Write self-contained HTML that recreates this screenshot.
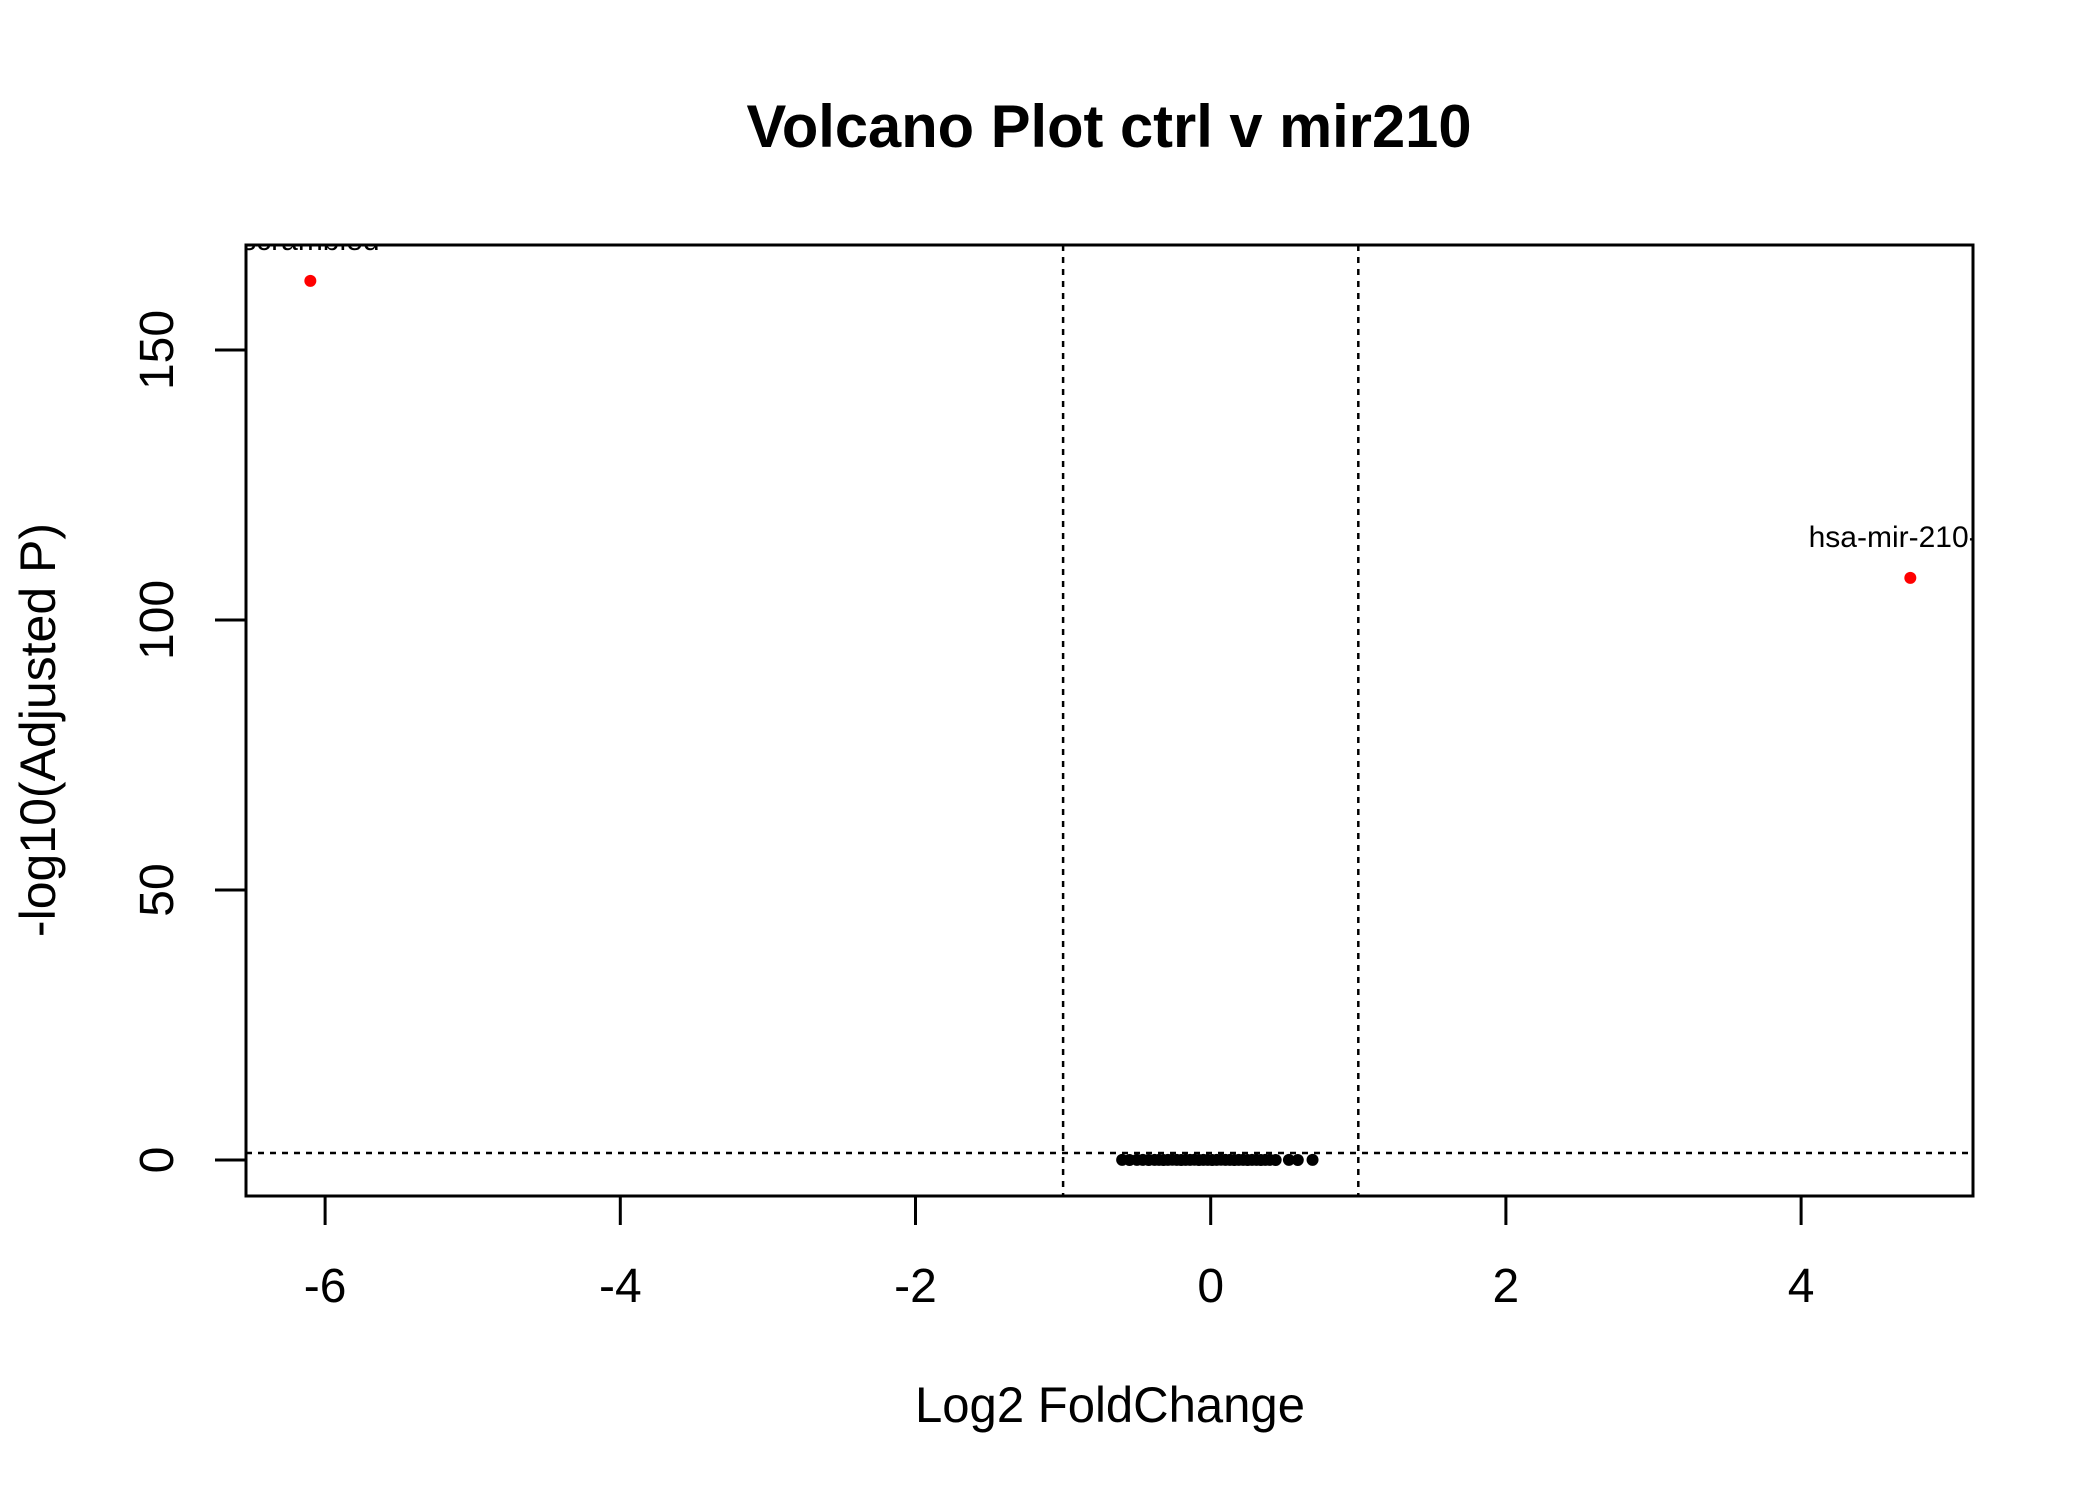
<!DOCTYPE html>
<html><head><meta charset="utf-8"><style>
html,body{margin:0;padding:0;background:#fff;}
svg{display:block;font-family:"Liberation Sans",sans-serif;}
</style></head><body>
<svg id="chart" width="2100" height="1500" xmlns="http://www.w3.org/2000/svg">
<rect width="2100" height="1500" fill="#fff"/>
<defs><clipPath id="plotclip"><rect x="246" y="245" width="1727" height="951"/></clipPath></defs>
<text x="1109" y="147" text-anchor="middle" font-weight="bold" font-size="60" textLength="725" lengthAdjust="spacingAndGlyphs">Volcano Plot ctrl v mir210</text>
<text x="1110" y="1422" text-anchor="middle" font-size="50" textLength="390" lengthAdjust="spacingAndGlyphs">Log2 FoldChange</text>
<text transform="translate(55,730) rotate(-90)" text-anchor="middle" font-size="50">-log10(Adjusted P)</text>
<g id="axes"></g>
<g id="guides" clip-path="url(#plotclip)"></g>
<g id="points" clip-path="url(#plotclip)"></g>
<rect x="246" y="245" width="1727" height="951" fill="none" stroke="#000" stroke-width="3"/>
</svg>
<script>
const xTicks = [-6, -4, -2, 0, 2, 4];
const yTicks = [0, 50, 100, 150];
const nsX = [-0.60,-0.55,-0.50,-0.46,-0.42,-0.38,-0.35,-0.32,-0.29,-0.26,-0.23,-0.20,-0.17,-0.14,-0.11,-0.08,-0.05,-0.02,0.01,0.04,0.07,0.10,0.13,0.16,0.19,0.22,0.25,0.28,0.31,0.34,0.37,0.40,0.44,0.53,0.59,0.69];
const nsY = [0.02,0.01,0.03,0.02,0.01,0.02,0.03,0.01,0.02,0.04,0.02,0.01,0.03,0.02,0.05,0.01,0.02,0.03,0.01,0.02,0.04,0.02,0.03,0.01,0.02,0.03,0.01,0.02,0.02,0.01,0.03,0.02,0.01,0.02,0.01,0.02];
const sigX = [-6.10, 4.74];
const sigY = [162.8, 107.8];
const sigLabels = ["scrambled", "hsa-mir-210-3p"];
const fcCut = [-1, 1];
const pCut = 1.3;

const NS = "http://www.w3.org/2000/svg";
function sx(v){ return 1210.7 + v * 147.6; }
function sy(v){ return 1160 - v * 5.4; }
function mk(tag, attrs, parent){
  const e = document.createElementNS(NS, tag);
  for (const k in attrs) e.setAttribute(k, attrs[k]);
  parent.appendChild(e); return e;
}
const axes = document.getElementById('axes');
const guides = document.getElementById('guides');
const pts = document.getElementById('points');

xTicks.forEach(t => {
  const l = mk('line', {x1: sx(t), x2: sx(t), y1: 1196, y2: 1225, stroke: '#000', 'stroke-width': 3}, axes);
  
  
  const tx = mk('text', {x: sx(t), y: 1302, 'text-anchor': 'middle', 'font-size': 48}, axes);
  tx.textContent = t;
  
  
});
yTicks.forEach(t => {
  const l = mk('line', {x1: 215, x2: 246, y1: sy(t), y2: sy(t), stroke: '#000', 'stroke-width': 3}, axes);
  
  
  const tx = mk('text', {transform: 'translate(173,' + sy(t) + ') rotate(-90)', 'text-anchor': 'middle', 'font-size': 48}, axes);
  tx.textContent = t;
  
  
});
fcCut.forEach(c => {
  const l = mk('line', {x1: sx(c), x2: sx(c), y1: 245, y2: 1196, stroke: '#000', 'stroke-width': 2.5, 'stroke-dasharray': '6,6'}, guides);
  
  
});
const hl = mk('line', {x1: 246, x2: 1973, y1: sy(pCut), y2: sy(pCut), stroke: '#000', 'stroke-width': 2.5, 'stroke-dasharray': '6,6'}, guides);



nsX.forEach((x, i) => {
  const c = mk('circle', {cx: sx(x), cy: sy(nsY[i]), r: 6, fill: '#000'}, pts);
  
  
});
sigX.forEach((x, i) => {
  const c = mk('circle', {cx: sx(x), cy: sy(sigY[i]), r: 6, fill: '#f00'}, pts);
  
  
  const t = mk('text', {x: sx(x), y: sy(sigY[i]) - 31, 'text-anchor': 'middle', 'font-size': 30}, pts);
  t.textContent = sigLabels[i];
  
  
});
</script>
</body></html>
